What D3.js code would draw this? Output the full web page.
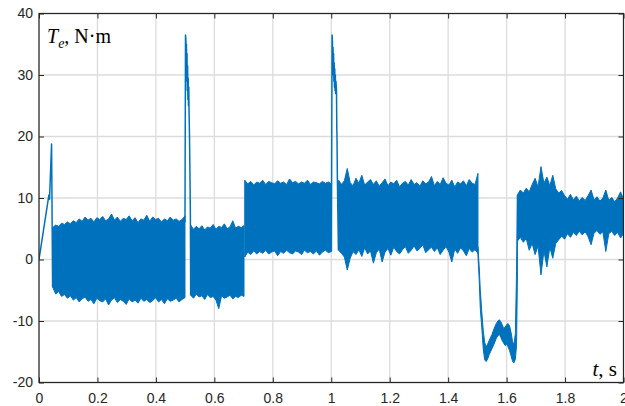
<!DOCTYPE html>
<html>
<head>
<meta charset="utf-8">
<script src="https://cdn.jsdelivr.net/npm/d3@7"></script>
<style>
  body { margin: 0; background: #fff; }
  svg { display: block; }
</style>
</head>
<body>
<div id="chart"></div>
<script>
const width = 625;
const height = 406;
const margin = { top: 13.5, right: 1.5, bottom: 23.5, left: 39 };
const lineColor = "#0072bd";
const axisColor = "#262626";
const gridColor = "#dcdcdc";

// tick values and labels
const xTicks = [0, 0.2, 0.4, 0.6, 0.8, 1, 1.2, 1.4, 1.6, 1.8, 2];
const xTickLabels = ["0", "0.2", "0.4", "0.6", "0.8", "1", "1.2", "1.4", "1.6", "1.8", "2"];
const yTicks = [-20, -10, 0, 10, 20, 30, 40];
const yTickLabels = ["-20", "-10", "0", "10", "20", "30", "40"];

// start ramp (t, Te)
const rampT = [0, 0.034, 0.036, 0.043, 0.0465];
const rampV = [0, 10.5, 9.8, 18.8, -4.5];

// noisy bands: upper / lower envelope, evenly spaced between start and end time
const bandStart = [0.047, 0.519, 0.704, 1.025, 1.637];
const bandEnd = [0.4995, 0.7015, 1.0005, 1.502, 2.0];

const bandAHi = [5.2,5.6,5.4,5.9,5.7,6.1,5.8,6.3,6.0,6.6, 6.2,6.9,6.4,6.7,6.1,6.8,6.5,7.0,6.3,6.6,
  7.4,6.4,6.9,6.2,6.7,6.5,7.1,6.3,6.8,6.0, 6.6,6.4,7.2,6.2,6.9,6.5,6.7,6.1,6.6,6.3, 6.9,6.4,6.6,6.2,6.5,7.1];
const bandALo = [-4.5,-5.6,-5.2,-6.0,-5.7,-6.3,-5.9,-6.6,-6.2,-6.9, -6.4,-6.1,-6.8,-6.5,-7.2,-6.3,-6.7,-6.9,-6.4,-7.4,
  -6.6,-6.2,-7.0,-6.5,-6.8,-7.3,-6.4,-6.9,-6.6,-7.1, -6.3,-6.8,-6.5,-7.0,-6.7,-6.2,-6.9,-6.5,-7.2,-6.4, -6.8,-6.6,-6.3,-6.9,-6.5,-6.2];

const bandBHi = [5.6,4.9,5.4,5.0,5.5,4.8,5.3,5.1,5.7,4.9, 5.4,5.2,5.8,5.0,5.3,6.3,5.1,5.4,5.2,5.5];
const bandBLo = [-5.8,-6.3,-5.6,-6.1,-5.9,-6.5,-5.7,-6.2,-6.0,-6.6, -8.0,-5.9,-6.3,-6.1,-5.8,-6.4,-6.0,-6.2,-5.8,-6.0];

const bandCHi = [12.9,12.3,12.7,12.1,12.6,12.4,12.9,12.2,12.7,12.5, 12.3,12.8,12.4,12.6,12.2,13.1,12.5,12.7,12.3,12.6,
  12.4,12.9,12.2,12.6,12.5,12.3,12.7,12.4,12.6,12.3];
const bandCLo = [0.4,1.2,0.8,1.4,0.9,1.3,1.0,1.5,0.9,1.2, 1.4,0.6,1.3,1.0,1.5,1.1,0.9,1.4,1.2,0.8,
  1.5,1.1,1.3,0.9,1.4,0.7,1.2,1.5,1.1,1.3];

const bandDHi = [12.9,12.2,12.8,14.8,12.5,12.0,13.2,12.4,13.7,12.1, 12.6,13.0,12.2,12.8,11.9,12.5,13.1,12.0,12.6,12.3,
  12.9,11.8,12.4,12.7,12.1,13.0,12.2,12.5,11.9,12.8, 12.3,12.6,13.5,12.0,12.7,12.2,13.3,12.4,12.1,12.9,
  11.8,12.6,12.3,12.8,12.0,13.0,12.4,12.2,14.0];
const bandDLo = [1.5,1.0,0.4,-1.7,0.2,1.3,0.8,1.6,0.5,1.9, 0.9,1.4,-0.6,1.1,1.7,-0.4,1.2,1.8,0.7,2.0,
  1.3,0.9,1.6,2.1,1.0,1.5,2.2,1.4,1.8,2.4, 1.1,1.6,2.0,1.3,1.9,0.8,1.5,2.1,1.2,-0.4,
  1.7,1.0,1.9,1.4,0.6,1.8,1.2,1.6,1.0];

const bandFHi = [10.5,11.3,10.8,11.6,11.0,12.2,13.2,11.8,15.1,12.4, 13.4,12.0,13.7,11.5,10.8,11.2,10.4,9.8,10.6,9.7,
  10.3,9.5,10.1,9.6,10.4,11.3,9.7,10.2,9.5,10.0, 11.3,9.6,10.1,9.4,10.0,11.0,9.8];
const bandFLo = [3.0,3.6,2.8,3.4,1.5,2.6,0.8,2.2,-2.5,1.4, -1.2,2.0,0.2,2.6,3.2,3.8,3.3,4.2,3.6,4.4,
  3.9,4.6,4.0,4.5,3.7,2.4,4.3,4.7,4.1,4.5, 1.3,4.2,4.6,3.9,4.4,3.5,4.2];

// spikes at 0.5 s and 1.0 s
const spike1T = [0.4995, 0.5013, 0.5025, 0.5035, 0.5045, 0.5055, 0.5065, 0.5075, 0.5085, 0.5095, 0.5105, 0.5115, 0.5125, 0.5135, 0.515, 0.5165, 0.518, 0.519];
const spike1V = [6.0, 36.5, 35.8, 30.5, 35.0, 29.0, 33.5, 27.5, 31.5, 26.0, 29.5, 25.0, 28.0, 24.0, 20.0, 14.0, 7.0, -5.8];
const spike2T = [1.0005, 1.0028, 1.004, 1.005, 1.006, 1.007, 1.008, 1.009, 1.010, 1.011, 1.012, 1.013, 1.014, 1.015, 1.016, 1.018, 1.019, 1.0195, 1.021, 1.0245];
const spike2V = [1.3, 36.5, 35.5, 31.0, 34.5, 30.0, 33.5, 29.0, 32.0, 28.0, 31.0, 27.5, 30.0, 27.0, 29.0, 27.5, 21.0, 20.5, 13.0, 1.5];

// dip between 1.5 s and 1.64 s
const dipT = [1.502,1.506,1.510,1.515,1.520,1.525,1.530,1.535,1.540,1.545,1.550,1.555,1.560,1.565,1.570,
  1.575,1.580,1.585,1.590,1.595,1.600,1.605,1.610,1.615,1.620,1.625,1.630,1.634,1.637];
const dipHi = [2,-1,-5,-8.5,-11.5,-13.5,-14.2,-13.8,-13.2,-12.7,-12.2,-11.5,-10.9,-10.4,-10.0,
  -9.8,-10.1,-10.6,-11.2,-11.0,-10.6,-10.4,-10.8,-11.8,-13.2,-14.0,-12.0,-2,10.5];
const dipLo = [0.5,-3,-8,-11,-14.5,-16.3,-16.6,-16.2,-15.5,-15.0,-14.5,-14.0,-13.4,-12.8,-12.4,
  -12.2,-12.6,-13.2,-13.6,-14.0,-13.8,-14.2,-14.8,-15.6,-16.5,-16.8,-16.2,-14,-3];

const bandHi = [bandAHi, bandBHi, bandCHi, bandDHi, bandFHi];
const bandLo = [bandALo, bandBLo, bandCLo, bandDLo, bandFLo];

const xScale = d3.scaleLinear().domain([0, 2]).range([margin.left, width - margin.right]);
const yScale = d3.scaleLinear().domain([-20, 40]).range([height - margin.bottom, margin.top]);

const svg = d3.select("#chart")
  .append("svg")
  .attr("width", width)
  .attr("height", height);

svg.append("defs").append("clipPath").attr("id", "plot-clip")
  .append("rect")
  .attr("x", xScale(0)).attr("y", yScale(40))
  .attr("width", xScale(2) - xScale(0))
  .attr("height", yScale(-20) - yScale(40));

// grid
const grid = svg.append("g");
grid.selectAll(".gx").data(xTicks).join("line")
  .attr("x1", d => xScale(d)).attr("x2", d => xScale(d))
  .attr("y1", yScale(40)).attr("y2", yScale(-20))
  .attr("stroke", gridColor).attr("stroke-width", 1.3);
grid.selectAll(".gy").data(yTicks).join("line")
  .attr("class", "gy")
  .attr("x1", xScale(0)).attr("x2", xScale(2))
  .attr("y1", d => yScale(d)).attr("y2", d => yScale(d))
  .attr("stroke", gridColor).attr("stroke-width", 1.3);

// signal
const plot = svg.append("g").attr("clip-path", "url(#plot-clip)");

const area = d3.area()
  .x(d => xScale(d.t))
  .y0(d => yScale(d.lo))
  .y1(d => yScale(d.hi));

const line = d3.line()
  .x(d => xScale(d.t))
  .y(d => yScale(d.v));

const bands = bandHi.map((hi, k) => {
  const lo = bandLo[k];
  const dt = (bandEnd[k] - bandStart[k]) / (hi.length - 1);
  return hi.map((h, i) => ({ t: bandStart[k] + i * dt, hi: h, lo: lo[i] }));
});
bands.push(dipT.map((t, i) => ({ t: t, hi: dipHi[i], lo: dipLo[i] })));

plot.selectAll(".band").data(bands).join("path")
  .attr("class", "band")
  .attr("d", area)
  .attr("fill", lineColor)
  .attr("stroke", lineColor)
  .attr("stroke-width", 1)
  .attr("stroke-linejoin", "round");

const traces = [
  rampT.map((t, i) => ({ t: t, v: rampV[i] })),
  spike1T.map((t, i) => ({ t: t, v: spike1V[i] })),
  spike2T.map((t, i) => ({ t: t, v: spike2V[i] })),
];
plot.selectAll(".trace").data(traces).join("path")
  .attr("class", "trace")
  .attr("d", line)
  .attr("fill", "none")
  .attr("stroke", lineColor)
  .attr("stroke-width", 1.5)
  .attr("stroke-linejoin", "round");

// axes (MATLAB style box with inward ticks)
const styleAxis = (g) => {
  g.select(".domain").remove();
  g.selectAll(".tick line").attr("stroke", axisColor);
  g.selectAll("text")
    .attr("fill", axisColor)
    .style("font-family", "'Liberation Sans', Arial, Helvetica, sans-serif")
    .style("font-size", "14px");
};

svg.append("g")
  .attr("transform", `translate(0, ${yScale(-20)})`)
  .call(d3.axisBottom(xScale).tickValues(xTicks).tickFormat((d, i) => xTickLabels[i])
    .tickSizeInner(-5).tickSizeOuter(0).tickPadding(11))
  .call(styleAxis);

svg.append("g")
  .attr("transform", `translate(${xScale(0)}, 0)`)
  .call(d3.axisLeft(yScale).tickValues(yTicks).tickFormat((d, i) => yTickLabels[i])
    .tickSizeInner(-5).tickSizeOuter(0).tickPadding(6))
  .call(styleAxis);

svg.append("g")
  .attr("transform", `translate(0, ${yScale(40)})`)
  .call(d3.axisTop(xScale).tickValues(xTicks).tickFormat("").tickSizeInner(-5).tickSizeOuter(0))
  .call(styleAxis);

svg.append("g")
  .attr("transform", `translate(${xScale(2)}, 0)`)
  .call(d3.axisRight(yScale).tickValues(yTicks).tickFormat("").tickSizeInner(-5).tickSizeOuter(0))
  .call(styleAxis);

svg.append("rect")
  .attr("x", xScale(0)).attr("y", yScale(40))
  .attr("width", xScale(2) - xScale(0))
  .attr("height", yScale(-20) - yScale(40))
  .attr("fill", "none")
  .attr("stroke", axisColor)
  .attr("stroke-width", 1.2);

// axis titles
const yTitle = svg.append("text")
  .attr("x", 47)
  .attr("y", 43)
  .style("font-family", "'Liberation Serif', 'Times New Roman', serif")
  .style("font-size", "20px")
  .attr("fill", "#000");
yTitle.append("tspan").style("font-style", "italic").text("T");
yTitle.append("tspan").style("font-style", "italic").style("font-size", "14px").attr("dy", 5).text("e");
yTitle.append("tspan").attr("dy", -5).text(", N\u00b7m");

const xTitle = svg.append("text")
  .attr("x", 617)
  .attr("y", 376)
  .attr("text-anchor", "end")
  .style("font-family", "'Liberation Serif', 'Times New Roman', serif")
  .style("font-size", "21px")
  .attr("fill", "#000");
xTitle.append("tspan").style("font-style", "italic").text("t");
xTitle.append("tspan").text(", s");
</script>
</body>
</html>
